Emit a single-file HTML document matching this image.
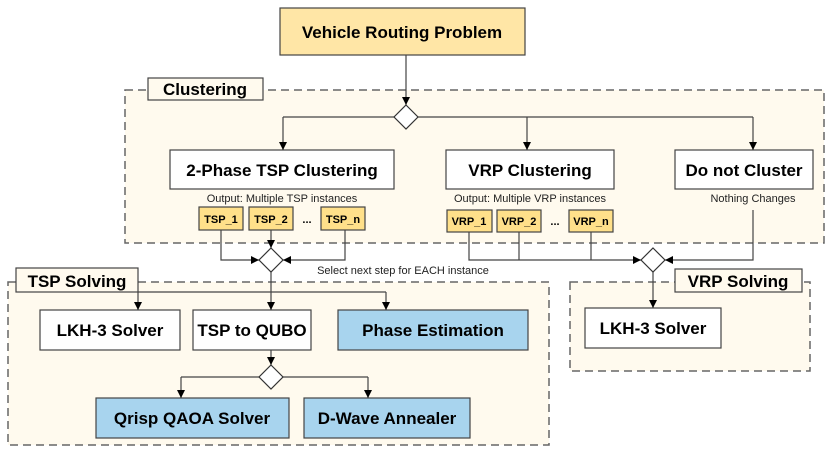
<!DOCTYPE html>
<html><head><meta charset="utf-8"><style>
html,body{margin:0;padding:0;background:#fff}
svg{display:block}
text{font-family:"Liberation Sans",Arial,sans-serif}
.b{font-weight:bold;font-size:17px;fill:#000}
.s{font-size:11px;fill:#222}
.t{font-weight:bold;font-size:11px;fill:#000}
</style></head><body>
<svg width="830" height="450" viewBox="0 0 830 450" xmlns="http://www.w3.org/2000/svg">
<defs><marker id="a" markerWidth="10" markerHeight="10" refX="9" refY="5" orient="auto" markerUnits="userSpaceOnUse"><path d="M1,1 L9,5 L1,9 Z" fill="#000"/></marker></defs>
<g stroke="#666" stroke-width="1.5" stroke-dasharray="8,5" fill="#fffaee">
<rect x="125" y="90" width="699" height="153"/>
<rect x="8" y="282" width="541" height="163"/>
<rect x="570" y="282" width="240" height="89"/>
</g>
<g stroke="#444" stroke-width="1.2" fill="#fff">
<rect x="280" y="8" width="245" height="47" fill="#ffe6a6"/>
<rect x="148" y="78" width="115" height="22" fill="#fffaee"/>
<rect x="170" y="150" width="224" height="39"/>
<rect x="446" y="150" width="168" height="39"/>
<rect x="675" y="150" width="138" height="39"/>
<rect x="199" y="207" width="44" height="23" fill="#ffe08a"/>
<rect x="249" y="207" width="44" height="23" fill="#ffe08a"/>
<rect x="321" y="207" width="44" height="23" fill="#ffe08a"/>
<rect x="447" y="210" width="45" height="22" fill="#ffe08a"/>
<rect x="497" y="210" width="44" height="22" fill="#ffe08a"/>
<rect x="569" y="210" width="44" height="22" fill="#ffe08a"/>
<rect x="16" y="268" width="122" height="24" fill="#fffaee"/>
<rect x="675" y="269" width="127" height="23" fill="#fffaee"/>
<rect x="40" y="310" width="140" height="40"/>
<rect x="193" y="310" width="118" height="40"/>
<rect x="338" y="310" width="190" height="40" fill="#a8d4ee"/>
<rect x="96" y="398" width="193" height="40" fill="#a8d4ee"/>
<rect x="304" y="398" width="166" height="40" fill="#a8d4ee"/>
<rect x="585" y="308" width="136" height="40"/>
</g>
<g stroke="#444" stroke-width="1.2" fill="none">
<line x1="406" y1="55" x2="406" y2="105" marker-end="url(#a)"/>
<polyline points="283,117 753,117"/>
<line x1="283" y1="117" x2="283" y2="150" marker-end="url(#a)"/>
<line x1="527" y1="117" x2="527" y2="150" marker-end="url(#a)"/>
<line x1="753" y1="117" x2="753" y2="150" marker-end="url(#a)"/>
<polyline points="221,230 221,260 259,260" marker-end="url(#a)"/>
<line x1="271" y1="230" x2="271" y2="248" marker-end="url(#a)"/>
<polyline points="345,230 345,260 283,260" marker-end="url(#a)"/>
<polyline points="469,232 469,260 641,260" marker-end="url(#a)"/>
<line x1="519" y1="232" x2="519" y2="260"/>
<line x1="591" y1="232" x2="591" y2="260"/>
<polyline points="753,210 753,260 665,260" marker-end="url(#a)"/>
<line x1="653" y1="272" x2="653" y2="308" marker-end="url(#a)"/>
<line x1="271" y1="272" x2="271" y2="310" marker-end="url(#a)"/>
<polyline points="138,292 386,292"/>
<line x1="138" y1="292" x2="138" y2="310" marker-end="url(#a)"/>
<line x1="386" y1="292" x2="386" y2="310" marker-end="url(#a)"/>
<line x1="271" y1="350" x2="271" y2="365" marker-end="url(#a)"/>
<polyline points="181,377 368,377"/>
<line x1="181" y1="377" x2="181" y2="398" marker-end="url(#a)"/>
<line x1="368" y1="377" x2="368" y2="398" marker-end="url(#a)"/>
</g>
<g stroke="#333" stroke-width="1.2" fill="#fff">
<polygon points="406,105 418,117 406,129 394,117"/>
<polygon points="271,248 283,260 271,272 259,260"/>
<polygon points="653,248 665,260 653,272 641,260"/>
<polygon points="271,365 283,377 271,389 259,377"/>
</g>
<g text-anchor="middle">
<text class="b" x="402" y="38">Vehicle Routing Problem</text>
<text class="b" x="205" y="95">Clustering</text>
<text class="b" x="282" y="176">2-Phase TSP Clustering</text>
<text class="b" x="530" y="176">VRP Clustering</text>
<text class="b" x="744" y="176">Do not Cluster</text>
<text class="s" x="282" y="202">Output: Multiple TSP instances</text>
<text class="s" x="530" y="202">Output: Multiple VRP instances</text>
<text class="s" x="753" y="202">Nothing Changes</text>
<text class="t" x="221" y="223">TSP_1</text>
<text class="t" x="271" y="223">TSP_2</text>
<text class="t" x="307" y="223">...</text>
<text class="t" x="343" y="223">TSP_n</text>
<text class="t" x="469" y="225">VRP_1</text>
<text class="t" x="519" y="225">VRP_2</text>
<text class="t" x="555" y="225">...</text>
<text class="t" x="591" y="225">VRP_n</text>
<text class="s" x="403" y="274">Select next step for EACH instance</text>
<text class="b" x="77" y="287">TSP Solving</text>
<text class="b" x="738" y="287">VRP Solving</text>
<text class="b" x="110" y="336">LKH-3 Solver</text>
<text class="b" x="252" y="336">TSP to QUBO</text>
<text class="b" x="433" y="336">Phase Estimation</text>
<text class="b" x="192" y="424">Qrisp QAOA Solver</text>
<text class="b" x="387" y="424">D-Wave Annealer</text>
<text class="b" x="653" y="334">LKH-3 Solver</text>
</g>
</svg>
</body></html>
